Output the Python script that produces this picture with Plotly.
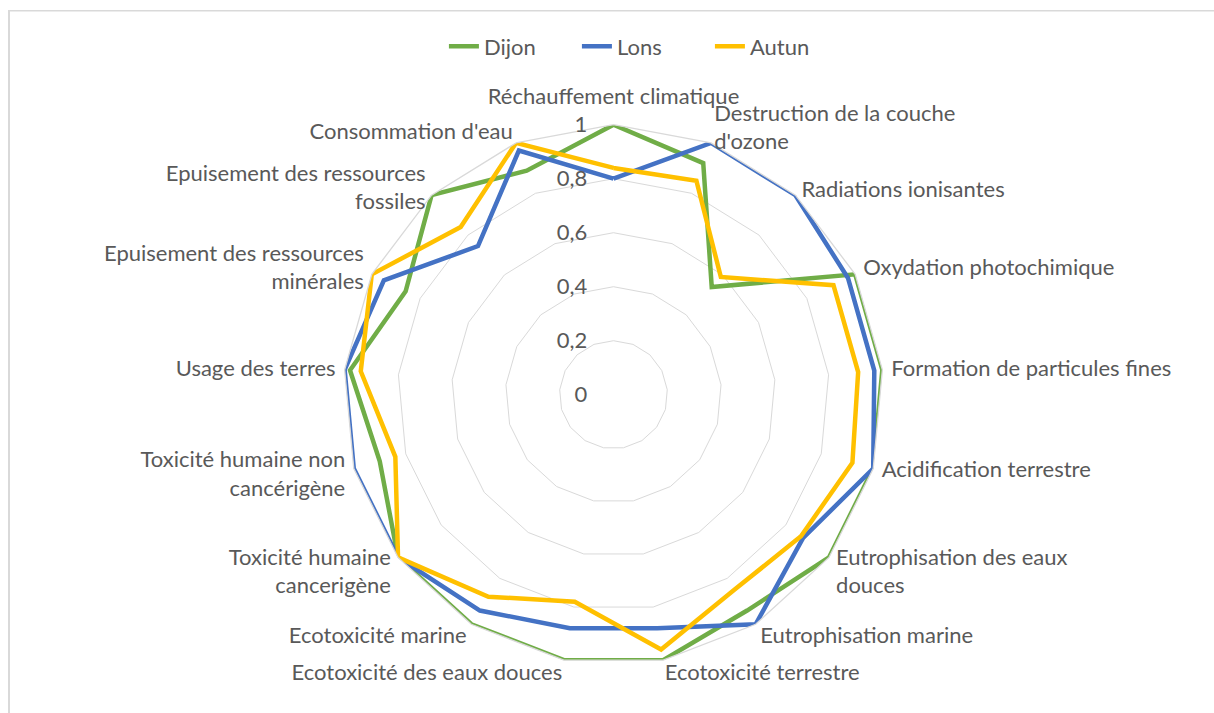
import plotly.graph_objects as go

categories = [
    "Réchauffement climatique",
    "Destruction de la couche<br>d'ozone",
    "Radiations ionisantes",
    "Oxydation photochimique",
    "Formation de particules fines",
    "Acidification terrestre",
    "Eutrophisation des eaux<br>douces",
    "Eutrophisation marine",
    "Ecotoxicité terrestre",
    "Ecotoxicité des eaux douces",
    "Ecotoxicité marine",
    "Toxicité humaine<br>cancerigène",
    "Toxicité humaine non<br>cancérigène",
    "Usage des terres",
    "Epuisement des ressources<br>minérales",
    "Epuisement des ressources<br>fossiles",
    "Consommation d'eau",
]

dijon = [1.0, 0.92, 0.54, 1.0, 1.0, 1.0, 1.0, 0.94, 1.0, 1.0, 1.0, 1.0, 0.90, 0.98, 0.86, 1.0, 0.89]
lons = [0.80, 1.0, 1.0, 0.97, 0.97, 1.0, 0.88, 1.0, 0.88, 0.88, 0.94, 1.0, 1.0, 1.0, 0.95, 0.745, 0.97]
autun = [0.84, 0.85, 0.59, 0.91, 0.91, 0.92, 0.87, 0.85, 0.96, 0.78, 0.88, 1.0, 0.84, 0.94, 1.0, 0.84, 1.0]

radial_ticks = [0, 0.2, 0.4, 0.6, 0.8, 1.0]
radial_labels = ["0", "0,2", "0,4", "0,6", "0,8", "1"]

series = [("Dijon", dijon, "#70AD47"), ("Lons", lons, "#4472C4"), ("Autun", autun, "#FFC000")]

FONT = "Lato"
FS = 22
TXT = "#595959"
GRID = "#d9d9d9"
W, H = 1214, 713

# category label groups: labels placed with a small vertical nudge (px), like Excel does
label_groups = [
    (0, [3, 4, 13]),
    (7, [0, 5, 12]),                 # nudged slightly upward
    (-15, [1, 15]),                  # nudged downward
    (-6, [2, 14, 16]),               # nudged slightly downward
    (12, [6, 7, 8, 9, 10, 11]),      # nudged upward
]

base_x = [0.2829, 0.7278]
base_y = [0.0677, 0.8251]

fig = go.Figure()
for name, vals, color in series:
    fig.add_trace(go.Scatterpolar(
        r=vals + vals[:1],
        theta=categories + categories[:1],
        mode="lines",
        name=name,
        line=dict(color=color, width=4.5),
        hoverinfo="skip",
        subplot="polar",
    ))

layout_polars = {}
for gi, (dy_px, idxs) in enumerate(label_groups):
    key = "polar" if gi == 0 else f"polar{gi + 1}"
    dy = dy_px / H
    ang = dict(
        rotation=90,
        direction="clockwise",
        showgrid=False,
        type="category",
        categoryorder="array",
        categoryarray=categories,
        tickmode="array",
        tickvals=categories,
        ticktext=[c if i in idxs else "" for i, c in enumerate(categories)],
        ticks="outside",
        ticklen=4,
        tickcolor="rgba(0,0,0,0)",
        tickfont=dict(family=FONT, size=FS, color=TXT),
    )
    if gi == 0:
        ang.update(showline=True, linecolor=GRID, linewidth=1.3)
        rad = dict(
            range=[0, 1],
            tickvals=radial_ticks,
            ticktext=radial_labels,
            angle=90,
            tickangle=90,
            side="counterclockwise",
            showline=False,
            gridcolor=GRID,
            gridwidth=1.3,
            ticks="outside",
            ticklen=18,
            tickcolor="rgba(0,0,0,0)",
            tickfont=dict(family=FONT, size=FS, color=TXT),
        )
        bg = "white"
    else:
        ang.update(showline=False)
        rad = dict(range=[0, 1], visible=False, showgrid=False)
        bg = "rgba(0,0,0,0)"
        fig.add_trace(go.Scatterpolar(
            r=dijon, theta=categories, mode="lines",
            line=dict(width=0, color="rgba(0,0,0,0)"),
            showlegend=False, hoverinfo="skip", subplot=key,
        ))
    layout_polars[key] = dict(
        domain=dict(x=base_x, y=[base_y[0] + dy, base_y[1] + dy]),
        bgcolor=bg,
        gridshape="linear",
        radialaxis=rad,
        angularaxis=ang,
    )

fig.update_layout(
    width=W,
    height=H,
    margin=dict(l=0, r=0, t=0, b=0),
    paper_bgcolor="white",
    plot_bgcolor="white",
    font=dict(family=FONT, size=FS, color=TXT),
    showlegend=True,
    legend=dict(
        orientation="h",
        x=0.530, xanchor="center",
        y=0.935, yanchor="middle",
        font=dict(family=FONT, size=FS, color=TXT),
        bgcolor="rgba(0,0,0,0)",
        entrywidth=88,
        entrywidthmode="pixels",
    ),
    shapes=[
        dict(type="line", xref="paper", yref="paper",
             x0=9 / W, x1=9 / W, y0=0, y1=1 - 10 / H,
             line=dict(color=GRID, width=2)),
        dict(type="line", xref="paper", yref="paper",
             x0=8 / W, x1=1, y0=1 - 10.7 / H, y1=1 - 10.7 / H,
             line=dict(color=GRID, width=1.5)),
    ],
    **layout_polars,
)

fig.write_html(
    "out.html",
    config={"displayModeBar": False},
    post_script="document.body.style.margin='0';document.body.style.overflow='hidden';",
)
